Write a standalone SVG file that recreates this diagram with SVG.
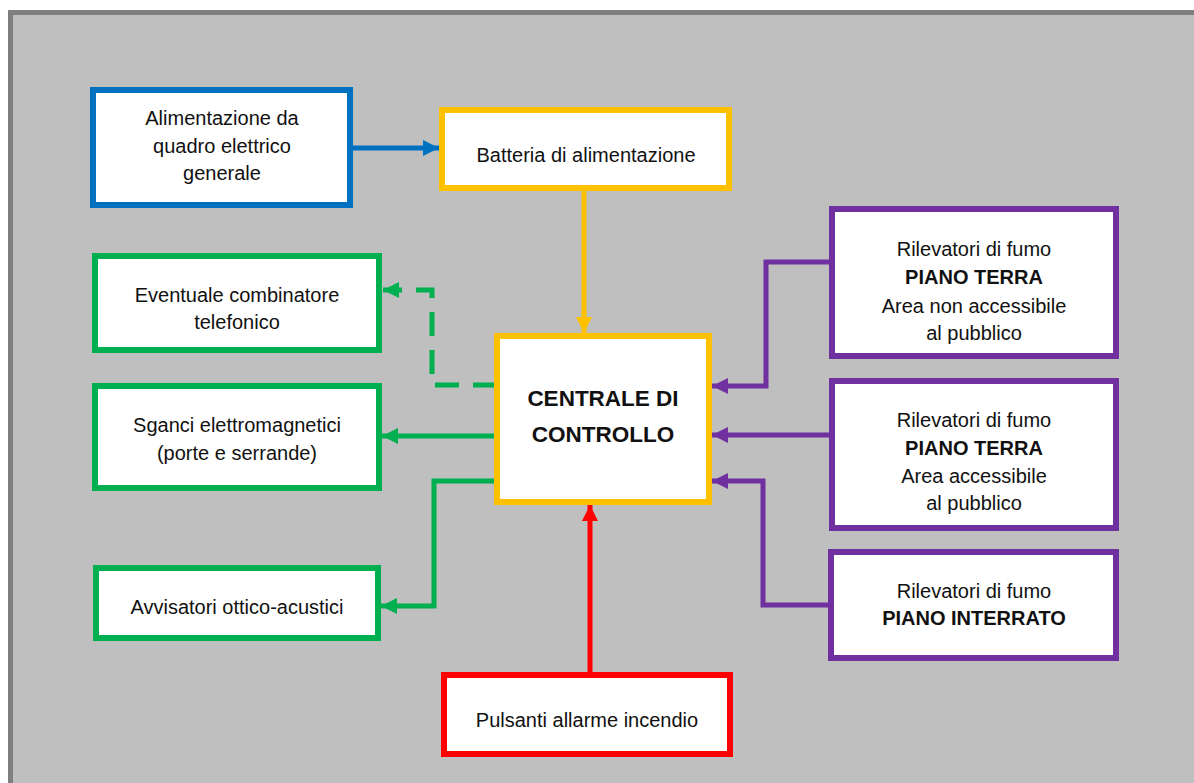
<svg xmlns="http://www.w3.org/2000/svg" width="1194" height="783" viewBox="0 0 1194 783">
<style>
.box{fill:#fff;stroke-width:6}
.t{font-family:"Liberation Sans",Arial,sans-serif;font-size:20px;fill:#111;text-anchor:middle}
.b{font-weight:bold}
.c{fill:none;stroke-width:5}
</style>
<defs>
<marker id="aB" viewBox="0 0 10 10" refX="10" refY="5" markerUnits="userSpaceOnUse" markerWidth="17" markerHeight="16" orient="auto"><path d="M0,0L10,5L0,10z" fill="#0070c0"/></marker>
<marker id="aY" viewBox="0 0 10 10" refX="10" refY="5" markerUnits="userSpaceOnUse" markerWidth="17" markerHeight="16" orient="auto"><path d="M0,0L10,5L0,10z" fill="#ffc000"/></marker>
<marker id="aG" viewBox="0 0 10 10" refX="10" refY="5" markerUnits="userSpaceOnUse" markerWidth="17" markerHeight="16" orient="auto"><path d="M0,0L10,5L0,10z" fill="#00b050"/></marker>
<marker id="aR" viewBox="0 0 10 10" refX="10" refY="5" markerUnits="userSpaceOnUse" markerWidth="17" markerHeight="16" orient="auto"><path d="M0,0L10,5L0,10z" fill="#ff0000"/></marker>
<marker id="aP" viewBox="0 0 10 10" refX="10" refY="5" markerUnits="userSpaceOnUse" markerWidth="17" markerHeight="16" orient="auto"><path d="M0,0L10,5L0,10z" fill="#7030a0"/></marker>
</defs>
<rect width="1194" height="783" fill="#fff"/>
<rect x="10.5" y="12.5" width="1200" height="800" fill="#bfbfbf" stroke="#7f7f7f" stroke-width="5"/>

<g id="connectors">
<path class="c" stroke="#0070c0" d="M353,148H439" marker-end="url(#aB)"/>
<path class="c" stroke="#ffc000" d="M584,191V333" marker-end="url(#aY)"/>
<path class="c" stroke="#00b050" stroke-dasharray="24 14" d="M497,385H432V290H383" marker-end="url(#aG)"/>
<path class="c" stroke="#00b050" d="M497,436H382" marker-end="url(#aG)"/>
<path class="c" stroke="#00b050" d="M501,481H434V606H381" marker-end="url(#aG)"/>
<path class="c" stroke="#ff0000" d="M590,672V505" marker-end="url(#aR)"/>
<path class="c" stroke="#7030a0" d="M829,262H766V386H712" marker-end="url(#aP)"/>
<path class="c" stroke="#7030a0" d="M829,435H712" marker-end="url(#aP)"/>
<path class="c" stroke="#7030a0" d="M828,605H763V481H712" marker-end="url(#aP)"/>
</g>

<g id="alimentazione">
<rect class="box" stroke="#0070c0" x="93" y="90" width="257" height="115"/>
<text class="t" x="222" y="125">Alimentazione da</text>
<text class="t" x="222" y="153">quadro elettrico</text>
<text class="t" x="222" y="180">generale</text>
</g>
<g id="batteria">
<rect class="box" stroke="#ffc000" x="442" y="110" width="287" height="78"/>
<text class="t" x="586" y="162">Batteria di alimentazione</text>
</g>
<g id="combinatore">
<rect class="box" stroke="#00b050" x="95" y="256" width="284" height="94"/>
<text class="t" x="237" y="302">Eventuale combinatore</text>
<text class="t" x="237" y="329">telefonico</text>
</g>
<g id="sganci">
<rect class="box" stroke="#00b050" x="95" y="386" width="284" height="102"/>
<text class="t" x="237" y="432">Sganci elettromagnetici</text>
<text class="t" x="237" y="460">(porte e serrande)</text>
</g>
<g id="avvisatori">
<rect class="box" stroke="#00b050" x="96" y="568" width="282" height="70"/>
<text class="t" x="237" y="614">Avvisatori ottico-acustici</text>
</g>
<g id="centrale">
<rect class="box" stroke="#ffc000" x="497" y="336" width="212" height="166"/>
<text class="t b" x="603" y="406" style="font-size:22.5px">CENTRALE DI</text>
<text class="t b" x="603" y="442" style="font-size:22.5px">CONTROLLO</text>
</g>
<g id="pulsanti">
<rect class="box" stroke="#ff0000" x="444" y="675" width="286" height="79"/>
<text class="t" x="587" y="727">Pulsanti allarme incendio</text>
</g>
<g id="ril-pt-non">
<rect class="box" stroke="#7030a0" x="832" y="209" width="284" height="147"/>
<text class="t" x="974" y="256">Rilevatori di fumo</text>
<text class="t b" x="974" y="284">PIANO TERRA</text>
<text class="t" x="974" y="313">Area non accessibile</text>
<text class="t" x="974" y="340">al pubblico</text>
</g>
<g id="ril-pt-acc">
<rect class="box" stroke="#7030a0" x="832" y="381" width="284" height="147"/>
<text class="t" x="974" y="427">Rilevatori di fumo</text>
<text class="t b" x="974" y="455">PIANO TERRA</text>
<text class="t" x="974" y="483">Area accessibile</text>
<text class="t" x="974" y="510">al pubblico</text>
</g>
<g id="ril-interrato">
<rect class="box" stroke="#7030a0" x="831" y="552" width="285" height="106"/>
<text class="t" x="974" y="598">Rilevatori di fumo</text>
<text class="t b" x="974" y="625">PIANO INTERRATO</text>
</g>
</svg>
